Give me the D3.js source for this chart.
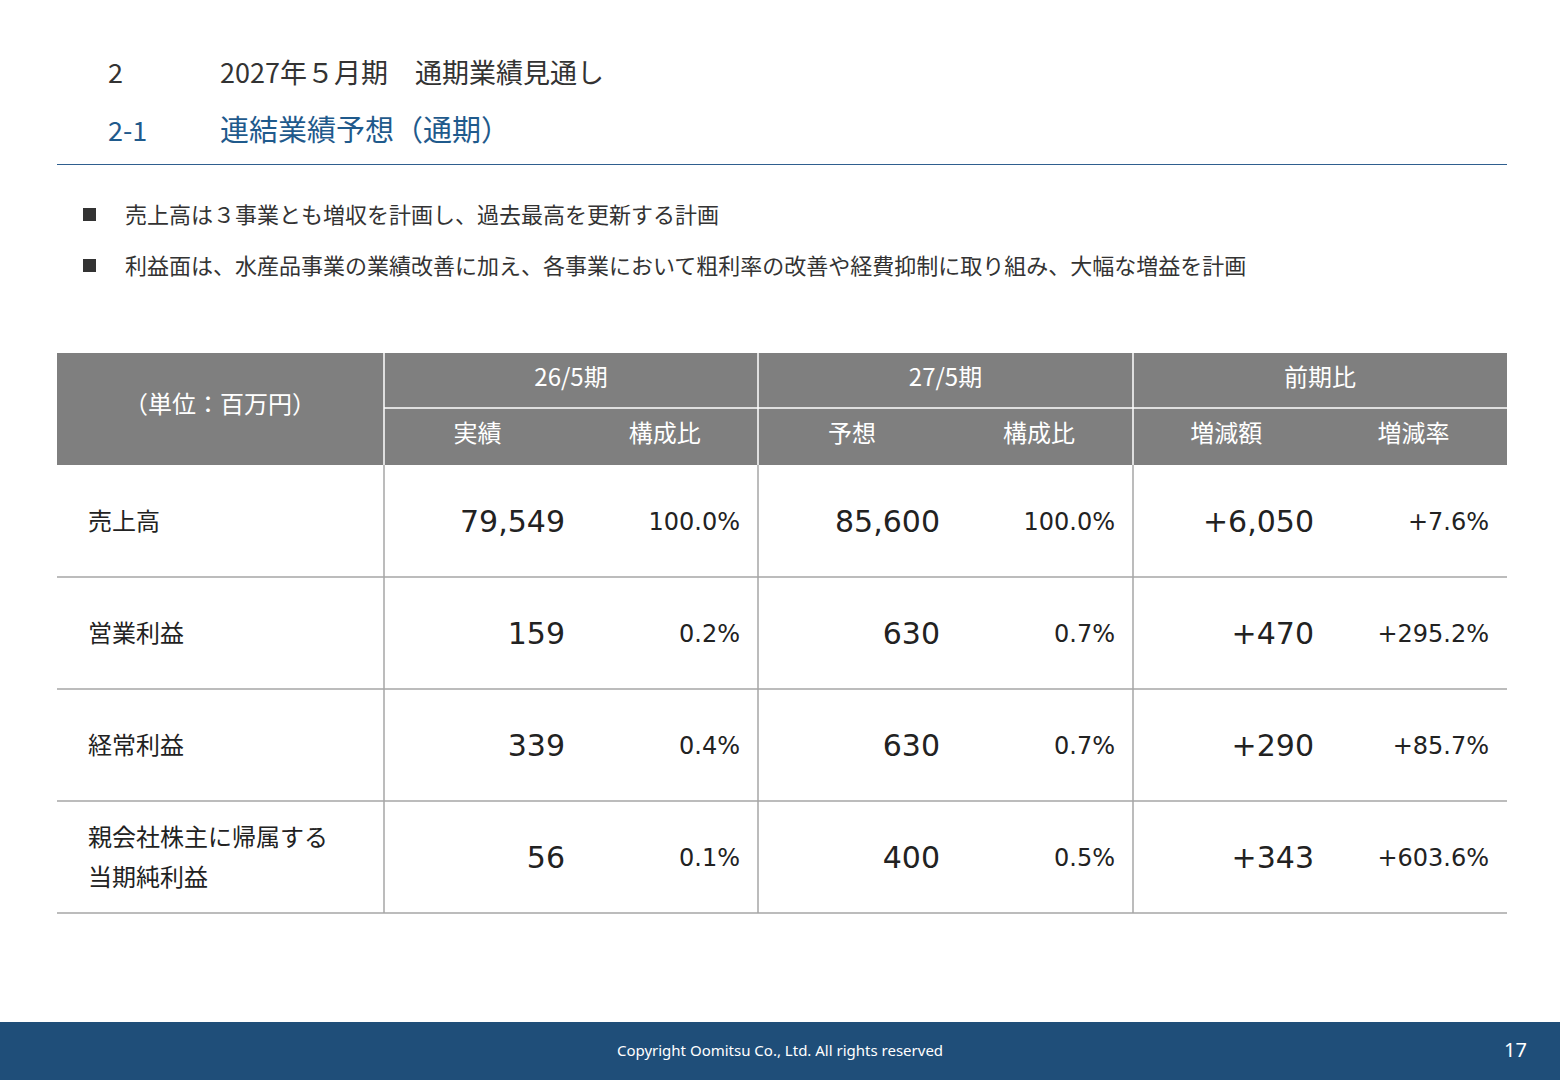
<!DOCTYPE html>
<html><head><meta charset="utf-8">
<script src="https://cdn.jsdelivr.net/npm/d3@7"></script>
<style>body{margin:0;background:#fff}svg{display:block}</style>
</head><body>
<script>
const categories = ["売上高","営業利益","経常利益","親会社株主に帰属する|当期純利益"];
const actual26 = ["79,549","159","339","56"];
const share26 = ["100.0%","0.2%","0.4%","0.1%"];
const forecast27 = ["85,600","630","630","400"];
const share27 = ["100.0%","0.7%","0.7%","0.5%"];
const diffAmt = ["+6,050","+470","+290","+343"];
const diffRate = ["+7.6%","+295.2%","+85.7%","+603.6%"];
const groupHeaders = ["26/5期","27/5期","前期比"];
const subHeaders = ["実績","構成比","予想","構成比","増減額","増減率"];
const bullets = ["売上高は３事業とも増収を計画し、過去最高を更新する計画","利益面は、水産品事業の業績改善に加え、各事業において粗利率の改善や経費抑制に取り組み、大幅な増益を計画"];

const JP = "'Noto Sans CJK JP','Noto Sans',sans-serif";
const NUM = "'DejaVu Sans','Noto Sans CJK JP',sans-serif";
const W=1560,H=1080;
const svg=d3.select("body").append("svg").attr("width",W).attr("height",H);

// titles
svg.append("text").attr("x",108).attr("y",83).attr("font-family",JP).attr("font-size",27).attr("fill","#333").text("2");
svg.append("text").attr("x",220).attr("y",83).attr("font-family",JP).attr("font-size",27).attr("fill","#333").text("2027年５月期　通期業績見通し");
svg.append("text").attr("x",108).attr("y",141).attr("font-family",JP).attr("font-size",27).attr("fill","#1f5a8c").text("2-1");
svg.append("text").attr("x",220).attr("y",141).attr("font-family",JP).attr("font-size",29).attr("fill","#1f5a8c").text("連結業績予想（通期）");
svg.append("line").attr("x1",57).attr("x2",1507).attr("y1",164.5).attr("y2",164.5).attr("stroke","#2f5f8f").attr("stroke-width",1.2);

bullets.forEach((b,i)=>{
  const y=215+i*51;
  svg.append("rect").attr("x",83).attr("y",y-7).attr("width",13).attr("height",13).attr("fill","#333");
  svg.append("text").attr("x",125).attr("y",y+8).attr("font-family",JP).attr("font-size",22).attr("fill","#333").text(b);
});

// table
const colEdges=[57,384,758,1133,1507];
const subX=d3.scaleBand().domain(d3.range(6)).range([384,1507]);
const rowY=d3.scaleBand().domain(d3.range(categories.length)).range([465,913]);
const gray="#7f7f7f";
svg.append("rect").attr("x",57).attr("y",353).attr("width",1450).attr("height",112).attr("fill",gray);
// header separators
[384,758,1133].forEach(x=>svg.append("line").attr("x1",x).attr("x2",x).attr("y1",353).attr("y2",465).attr("stroke","#fff").attr("stroke-width",1.5));
svg.append("line").attr("x1",384).attr("x2",1507).attr("y1",408).attr("y2",408).attr("stroke","#fff").attr("stroke-width",1.5);
svg.append("text").attr("x",220).attr("y",413).attr("text-anchor","middle").attr("font-family",JP).attr("font-size",24).attr("fill","#fff").text("（単位：百万円）");
groupHeaders.forEach((g,i)=>svg.append("text").attr("x",(colEdges[i+1]+colEdges[i+2])/2).attr("y",386).attr("text-anchor","middle").attr("font-family",JP).attr("font-size",24).attr("fill","#fff").text(g));
subHeaders.forEach((s,i)=>svg.append("text").attr("x",subX(i)+subX.bandwidth()/2).attr("y",442).attr("text-anchor","middle").attr("font-family",JP).attr("font-size",24).attr("fill","#fff").text(s));

// body lines
categories.forEach((c,i)=>{
  const y=rowY(i)+rowY.bandwidth();
  svg.append("line").attr("x1",57).attr("x2",1507).attr("y1",y).attr("y2",y).attr("stroke","#a6a6a6").attr("stroke-width",1.5);
});
[384,758,1133].forEach(x=>svg.append("line").attr("x1",x).attr("x2",x).attr("y1",465).attr("y2",913).attr("stroke","#a6a6a6").attr("stroke-width",1.5));

const cols=[[actual26,565,30],[share26,740,24],[forecast27,940,30],[share27,1115,24],[diffAmt,1314,30],[diffRate,1489,24]];
categories.forEach((c,i)=>{
  const cy=rowY(i)+rowY.bandwidth()/2;
  const parts=c.split("|");
  parts.forEach((p,j)=>svg.append("text").attr("x",88).attr("y",cy+9+(j-(parts.length-1)/2)*40).attr("font-family",JP).attr("font-size",24).attr("fill","#222").text(p));
  cols.forEach(([arr,x,fs])=>svg.append("text").attr("x",x).attr("y",cy+(fs>25?11:9)).attr("text-anchor","end").attr("font-family",NUM).attr("font-size",fs).attr("fill","#222").text(arr[i]));
});

// footer
svg.append("rect").attr("x",0).attr("y",1022).attr("width",W).attr("height",58).attr("fill","#1f4e79");
svg.append("text").attr("x",780).attr("y",1056).attr("text-anchor","middle").attr("font-family","'Noto Sans',sans-serif").attr("font-size",15).attr("fill","#fff").text("Copyright Oomitsu Co., Ltd. All rights reserved");
svg.append("text").attr("x",1527).attr("y",1057).attr("text-anchor","end").attr("font-family","'Noto Sans',sans-serif").attr("font-size",20).attr("fill","#fff").text("17");
</script>
</body></html>
